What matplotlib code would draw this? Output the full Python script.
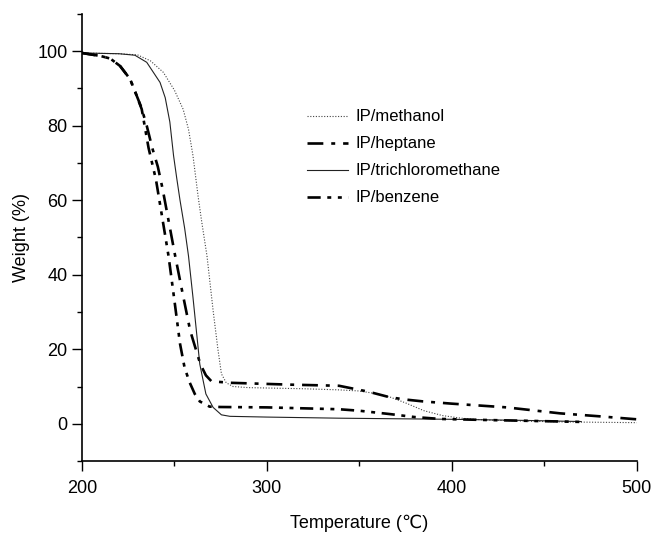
import matplotlib.pyplot as plt
from matplotlib.ticker import MultipleLocator

# TGA curves
t_methanol = [200, 210, 220, 230, 237, 244, 250, 254.7, 257.6, 260, 262.8, 264.5, 267.6, 271, 273.5, 275.4,
              278, 281.7, 290, 300, 320, 339, 350, 360, 367, 375, 385, 395, 405, 412, 420, 440, 460, 480, 500]
w_methanol = [99.5, 99.4, 99.3, 99.0, 97.4, 94.3, 89.5, 84.4, 79, 72, 61, 55, 45, 30, 20, 13.4,
              11.0, 10.0, 9.7, 9.6, 9.4, 9.1, 8.8, 8.0, 7.1, 5.6, 3.5, 2.2, 1.5, 1.2, 1.0, 0.7, 0.5, 0.4, 0.3]

t_heptane = [200, 210, 215.3, 220.6, 226, 229.6, 232, 235, 238, 241, 243.6, 247, 250.4, 254, 258.5,
             264, 267, 270, 280, 312.6, 339, 345, 355, 366.6, 375, 384.5, 400, 429.7, 458.5, 480, 500]
w_heptane = [99.5, 98.7, 98.0, 96.0, 92.5, 88, 85, 80, 74, 69, 63, 54, 45, 36, 25,
             16, 13, 11.4, 11.0, 10.5, 10.2, 9.6, 8.6, 7.1, 6.5, 6.0, 5.4, 4.4, 2.8, 2.0, 1.2]

t_trichloro = [200, 220, 228.6, 235, 239, 242.2, 245, 247.5, 249.5, 251.2, 253, 255.5, 257.6, 260, 263.7,
               267, 270.9, 275.4, 280, 300, 339, 400, 440, 470]
w_trichloro = [99.5, 99.3, 98.9, 97, 94, 91.6, 87.5, 81, 72, 66, 60, 52.5, 45, 34, 16,
               8, 4.4, 2.4, 2.0, 1.8, 1.5, 1.2, 0.9, 0.6]

t_benzene = [200, 210, 215.3, 220.6, 226, 229.6, 232.3, 236, 240, 243.5, 246.8, 250, 253, 255.5, 258.3,
             261, 263.7, 269, 275, 300, 339, 350, 366.6, 380, 393.7, 420, 450, 470]
w_benzene = [99.5, 98.7, 98.0, 96.0, 92.5, 88, 84.4, 74, 65.5, 55, 45, 33, 21.5, 15, 11,
             8, 6, 4.6, 4.5, 4.4, 3.9, 3.5, 2.6, 1.8, 1.3, 1.0, 0.7, 0.5]

labels = ['IP/methanol', 'IP/heptane', 'IP/trichloromethane', 'IP/benzene']

plt.rcParams['font.family'] = ['Liberation Sans', 'DejaVu Sans']

fig = plt.figure(figsize=(6.53, 5.33), dpi=100)
ax = fig.add_axes([0.1256, 0.135, 0.8494, 0.839])

ax.plot(t_methanol, w_methanol, color='#444444', lw=0.8, linestyle=(0, (1, 1.5)), label=labels[0])
ax.plot(t_heptane, w_heptane, color='black', lw=1.9, linestyle=(0, (6, 3, 1.5, 3)), label=labels[1])
ax.plot(t_trichloro, w_trichloro, color='#222222', lw=0.8, linestyle='-', label=labels[2])
ax.plot(t_benzene, w_benzene, color='black', lw=1.9, linestyle=(0, (5, 2.5, 1.5, 2.5, 1.5, 2.5)), label=labels[3])

ax.set_xlim(200, 500)
ax.set_ylim(-10, 110)
ax.set_xticks([200, 300, 400, 500])
ax.set_yticks([0, 20, 40, 60, 80, 100])
ax.xaxis.set_minor_locator(MultipleLocator(50))
ax.yaxis.set_minor_locator(MultipleLocator(10))
ax.tick_params(which='major', direction='out', length=7, width=1, labelsize=13)
ax.tick_params(axis='x', which='major', pad=7)
ax.tick_params(which='minor', direction='out', length=3.5, width=1)

for s in ['top', 'right']:
    ax.spines[s].set_visible(False)
for s in ['left', 'bottom']:
    ax.spines[s].set_linewidth(1.2)

ax.set_xlabel('Temperature (\u2103)', fontsize=13, labelpad=12)
ax.set_ylabel('Weight (%)', fontsize=13, labelpad=5)

ax.legend(loc='upper left', bbox_to_anchor=(0.39, 0.805), frameon=False, fontsize=12,
          handlelength=2.5, handletextpad=0.45, labelspacing=0.72, borderpad=0)

fig.savefig('out.png', dpi=100)
